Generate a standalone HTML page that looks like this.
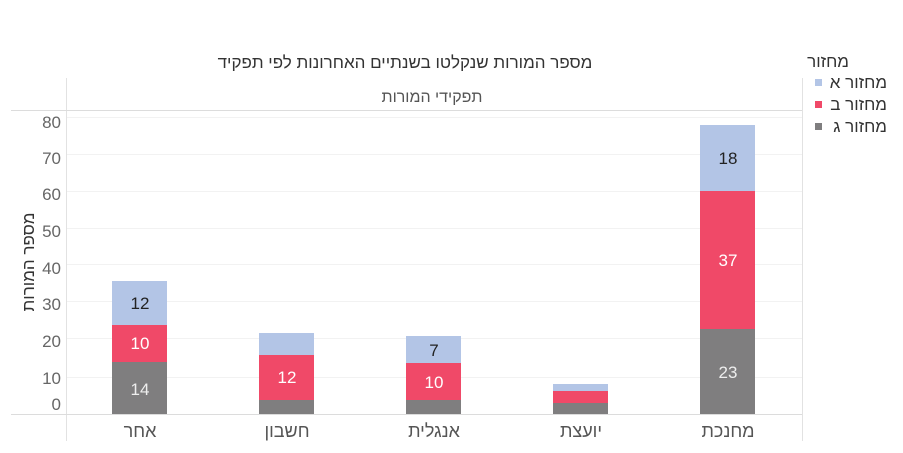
<!DOCTYPE html>
<html><head><meta charset="utf-8"><style>
body{margin:0;background:#fff;}
svg{display:block;font-family:"Liberation Sans","Noto Sans CJK SC",sans-serif;}
</style></head><body>
<svg width="903" height="453" viewBox="0 0 903 453">
<text x="405" y="68" text-anchor="middle" font-size="17" fill="#333">מספר המורות שנקלטו בשנתיים האחרונות לפי תפקיד</text>
<line x1="66.5" y1="78" x2="66.5" y2="441" stroke="#e2e2e2"/>
<line x1="802.5" y1="78" x2="802.5" y2="441" stroke="#e2e2e2"/>
<line x1="11" y1="110.5" x2="802" y2="110.5" stroke="#dcdcdc"/>
<line x1="11" y1="414.5" x2="802" y2="414.5" stroke="#dcdcdc"/>
<text x="432" y="102" text-anchor="middle" font-size="16" fill="#555">תפקידי המורות</text>
<g stroke="#f2f2f2">
<line x1="67" y1="117.5" x2="802" y2="117.5"/><line x1="67" y1="154.5" x2="802" y2="154.5"/>
<line x1="67" y1="191.5" x2="802" y2="191.5"/><line x1="67" y1="228.5" x2="802" y2="228.5"/>
<line x1="67" y1="264.5" x2="802" y2="264.5"/><line x1="67" y1="301.5" x2="802" y2="301.5"/>
<line x1="67" y1="338.5" x2="802" y2="338.5"/><line x1="67" y1="377.5" x2="802" y2="377.5"/>
</g>
<g font-size="17" fill="#666" text-anchor="end">
<text x="61" y="128">80</text><text x="61" y="164">70</text><text x="61" y="200">60</text>
<text x="61" y="237">50</text><text x="61" y="274">40</text><text x="61" y="310">30</text>
<text x="61" y="347">20</text><text x="61" y="384">10</text><text x="61" y="410">0</text>
</g>
<text transform="translate(34,262) rotate(-90)" text-anchor="middle" font-size="17" fill="#333">מספר המורות</text>
<g>
<rect x="112" y="281" width="55" height="44" fill="#b3c5e6"/>
<rect x="112" y="325" width="55" height="37" fill="#f04968"/>
<rect x="112" y="362" width="55" height="52" fill="#7f7e7f"/>
<rect x="259" y="333" width="55" height="22" fill="#b3c5e6"/>
<rect x="259" y="355" width="55" height="45" fill="#f04968"/>
<rect x="259" y="400" width="55" height="14" fill="#7f7e7f"/>
<rect x="406" y="336" width="55" height="27" fill="#b3c5e6"/>
<rect x="406" y="363" width="55" height="37" fill="#f04968"/>
<rect x="406" y="400" width="55" height="14" fill="#7f7e7f"/>
<rect x="553" y="384" width="55" height="7" fill="#b3c5e6"/>
<rect x="553" y="391" width="55" height="12" fill="#f04968"/>
<rect x="553" y="403" width="55" height="11" fill="#7f7e7f"/>
<rect x="700" y="125" width="55" height="66" fill="#b3c5e6"/>
<rect x="700" y="191" width="55" height="138" fill="#f04968"/>
<rect x="700" y="329" width="55" height="85" fill="#7f7e7f"/>
</g>
<g font-size="17" text-anchor="middle">
<text x="140" y="309" fill="#222">12</text>
<text x="140" y="349" fill="#fff">10</text>
<text x="140" y="395" fill="#eee">14</text>
<text x="287" y="383" fill="#fff">12</text>
<text x="434" y="356" fill="#222">7</text>
<text x="434" y="388" fill="#fff">10</text>
<text x="728" y="164" fill="#222">18</text>
<text x="728" y="266" fill="#fff">37</text>
<text x="728" y="378" fill="#eee">23</text>
</g>
<g font-size="18" fill="#555" text-anchor="middle">
<text x="140" y="437">אחר</text><text x="287" y="437">חשבון</text>
<text x="434" y="437">אנגלית</text><text x="581" y="437">יועצת</text>
<text x="728" y="437">מחנכת</text>
</g>
<text x="849" y="67" text-anchor="end" font-size="17" fill="#333">מחזור</text>
<rect x="815" y="79" width="7" height="7" fill="#b3c5e6"/>
<rect x="815" y="101" width="7" height="7" fill="#f04968"/>
<rect x="815" y="123" width="7" height="7" fill="#7f7e7f"/>
<g font-size="17" fill="#333" text-anchor="end">
<text x="887" y="88">מחזור א</text><text x="887" y="110">מחזור ב</text><text x="887" y="132">מחזור ג</text>
</g>
</svg>
</body></html>
